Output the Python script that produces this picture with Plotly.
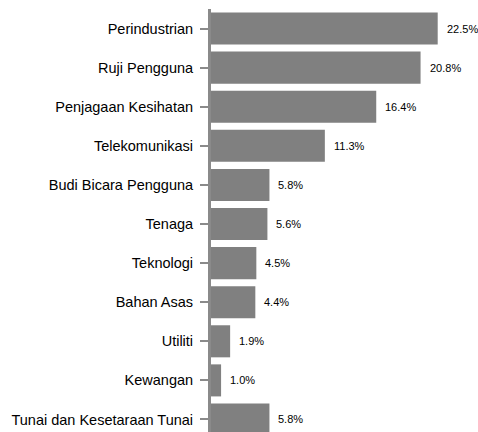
import plotly.graph_objects as go

categories = ["Perindustrian", "Ruji Pengguna", "Penjagaan Kesihatan", "Telekomunikasi",
              "Budi Bicara Pengguna", "Tenaga", "Teknologi", "Bahan Asas", "Utiliti",
              "Kewangan", "Tunai dan Kesetaraan Tunai"]
values = [22.5, 20.8, 16.4, 11.3, 5.8, 5.6, 4.5, 4.4, 1.9, 1.0, 5.8]
labels = [f"{v:.1f}%" for v in values]

fig = go.Figure(go.Bar(
    x=values, y=categories, orientation="h",
    marker=dict(color="#808080", line=dict(width=0)),
    hoverinfo="skip",
))

for c, v, t in zip(categories, values, labels):
    fig.add_annotation(x=v, y=c, text=t, showarrow=False, xanchor="left", yanchor="middle",
                       xshift=8, borderpad=0,
                       font=dict(family="Liberation Sans, Arial", size=11, color="#000"))

fig.update_layout(
    width=478, height=432,
    margin=dict(l=211, r=0, t=9, b=0, autoexpand=False),
    paper_bgcolor="white", plot_bgcolor="white",
    bargap=0.18,
    showlegend=False,
    font=dict(family="Liberation Sans, Arial", size=14.5, color="#000"),
    xaxis=dict(range=[0, 26.5], showgrid=False, zeroline=False, showticklabels=False,
               showline=False, ticks="", automargin=False),
    yaxis=dict(type="category", range=[10.32, -0.5], showgrid=False, zeroline=False,
               automargin=False,
               showline=True, linecolor="#8a8a8a", linewidth=3,
               ticks="outside", ticklen=8, tickwidth=1.5, tickcolor="#8a8a8a",
               ticklabelstandoff=4,
               tickfont=dict(family="Liberation Sans, Arial", size=14.5, color="#000")),
)

fig.write_html(
    "out.html",
    config={"displayModeBar": False},
    post_script="document.body.style.margin='0';document.body.style.overflow='hidden';",
)
